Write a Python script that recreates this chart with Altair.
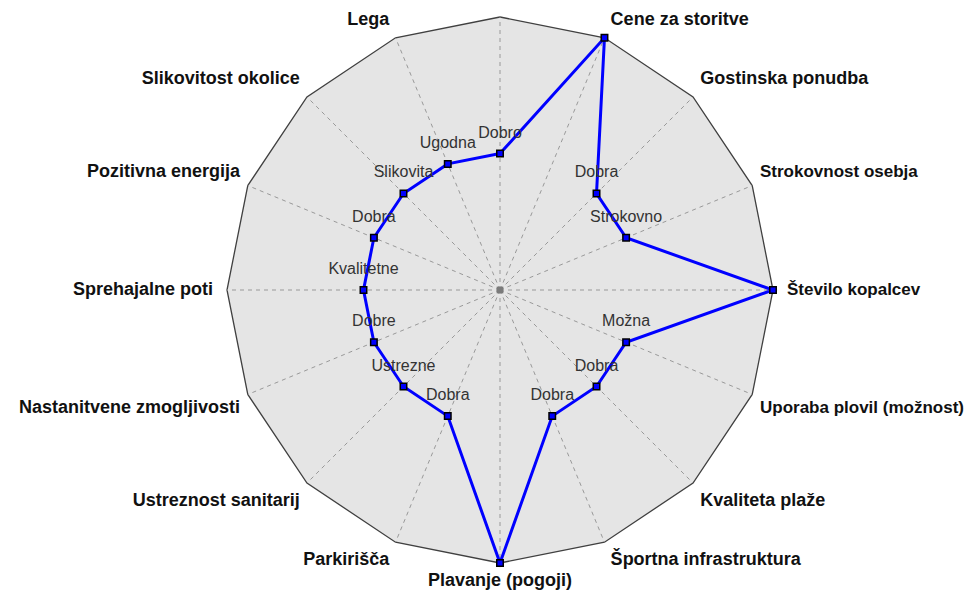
import math
import altair as alt
import pandas as pd

# ---- data ----
axes = ["", "Cene za storitve", "Gostinska ponudba", "Strokovnost osebja", "Število kopalcev",
        "Uporaba plovil (možnost)", "Kvaliteta plaže", "Športna infrastruktura", "Plavanje (pogoji)",
        "Parkirišča", "Ustreznost sanitarij", "Nastanitvene zmogljivosti", "Sprehajalne poti",
        "Pozitivna energija", "Slikovitost okolice", "Lega"]
values = [0.5, 1.0, 0.5, 0.5, 1.0, 0.5, 0.5, 0.5, 1.0, 0.5, 0.5, 0.5, 0.5, 0.5, 0.5, 0.5]
point_labels = ["Dobro", "", "Dobra", "Strokovno", "", "Možna", "Dobra", "Dobra", "",
                "Dobra", "Ustrezne", "Dobre", "Kvalitetne", "Dobra", "Slikovita", "Ugodna"]

# ---- geometry ----
R = 273.0  # px per unit radius
W = 546
n = len(axes)
ang = [2 * math.pi * i / n for i in range(n)]
sn = [math.sin(a) for a in ang]
cs = [math.cos(a) for a in ang]
sn = [0.0 if abs(s) < 1e-9 else s for s in sn]
cs = [0.0 if abs(c) < 1e-9 else c for c in cs]

# frame fill (convex polygon as area between upper and lower halves)
upper = sorted(set(i for i in range(n) if cs[i] >= -1e-9), key=lambda i: sn[i])
frame_fill = pd.DataFrame({"x": [sn[i] for i in upper],
                           "y": [cs[i] for i in upper],
                           "y2": [-cs[i] for i in upper]})

frame_line = pd.DataFrame({"x": sn + [sn[0]], "y": cs + [cs[0]], "o": list(range(n + 1))})
spokes = pd.DataFrame({"x": [0.0] * n, "y": [0.0] * n, "x2": sn, "y2": cs})
center = pd.DataFrame({"x": [0.0], "y": [0.0]})

pts = pd.DataFrame({
    "axis": axes,
    "value": values,
    "label": point_labels,
    "x": [values[i] * sn[i] for i in range(n)],
    "y": [values[i] * cs[i] for i in range(n)],
    "o": list(range(n)),
})
series_line = pd.concat([pts, pts.iloc[[0]].assign(o=n)], ignore_index=True)

# outer axis label anchors
pad_left, pad_right = 219, 197
right_limit = W + pad_right - 2  # px from plot origin where the page ends
lab_rows = []
for i in range(n):
    if not axes[i]:
        continue
    s, c = sn[i], cs[i]
    sg = (s > 0) - (s < 0)
    cg = (c > 0) - (c < 0)
    ox = sg * (5 + 3 * abs(s)) + (sg * 6 if c == 0 else 0)
    oy = 18 * cg * min(1.0, abs(c) / 0.5)
    align = "left" if sg > 0 else ("right" if sg < 0 else "center")
    fs = 18
    if align == "left":
        # shrink a label that would run past the page edge
        start = R + s * R + ox
        est = 0.655 * fs * len(axes[i])
        if start + est > right_limit:
            fs = 17
    lab_rows.append({"name": axes[i], "x": s + ox / R, "y": c + oy / R, "align": align, "fs": fs})
labs = pd.DataFrame(lab_rows)

sc = alt.Scale(domain=[-1, 1], nice=False, zero=False)
X = lambda f="x": alt.X(f"{f}:Q", scale=sc, axis=None)
Y = lambda f="y": alt.Y(f"{f}:Q", scale=sc, axis=None)

fill = alt.Chart(frame_fill).mark_area(color="#e5e5e5", interpolate="linear", orient="vertical").encode(
    x=X(), y=Y(), y2="y2:Q")
outline = alt.Chart(frame_line).mark_line(color="#404040", strokeWidth=1.3).encode(
    x=X(), y=Y(), order="o:Q")
spk = alt.Chart(spokes).mark_rule(color="#999999", strokeDash=[4, 4], strokeWidth=1).encode(
    x=X(), y=Y(), x2="x2:Q", y2="y2:Q")
ctr = alt.Chart(center).mark_square(color="#7a7a7a", size=45, opacity=1).encode(x=X(), y=Y())
line = alt.Chart(series_line).mark_line(color="#0000ff", strokeWidth=3).encode(
    x=X(), y=Y(), order="o:Q")
marks = alt.Chart(pts).mark_square(fill="#0000ff", stroke="#000000", strokeWidth=1.5, size=42,
                                   opacity=1).encode(x=X(), y=Y())
ptxt = alt.Chart(pts).mark_text(font="Liberation Sans", fontSize=16, color="#333333",
                                dy=-21, baseline="middle").encode(x=X(), y=Y(), text="label:N")

def axis_text(al):
    return alt.Chart(labs).transform_filter(alt.datum.align == al).mark_text(
        font="Liberation Sans", fontWeight="bold", color="#111111",
        align=al, baseline="middle").encode(
        x=X(), y=Y(), text="name:N", size=alt.Size("fs:Q", scale=None, legend=None))

chart = alt.layer(fill, outline, spk, ctr, line, marks, ptxt,
                  axis_text("left"), axis_text("right"), axis_text("center")).properties(
    width=W, height=W,
    autosize=alt.AutoSizeParams(type="none"),
    padding={"left": pad_left, "top": 9, "right": pad_right, "bottom": 30},
    background="white",
).configure_view(stroke=None)

chart.save("out.html", embed_options={"renderer": "svg", "actions": False})
